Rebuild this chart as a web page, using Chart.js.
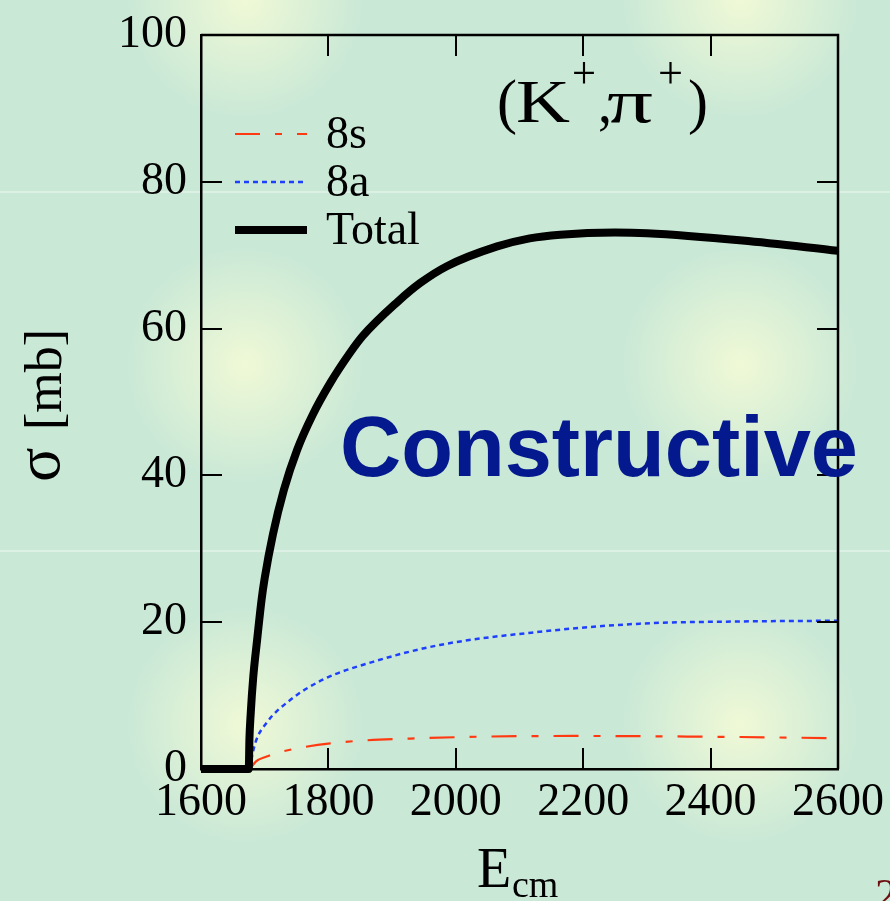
<!DOCTYPE html>
<html>
<head>
<meta charset="utf-8">
<script src="https://cdn.jsdelivr.net/npm/chart.js@4.4.1/dist/chart.umd.min.js"></script>
<style>
html, body { margin: 0; padding: 0; }
body {
    width: 890px;
    height: 901px;
    overflow: hidden;
    background:
        radial-gradient(circle at 245px 0px, rgba(242,250,214,0.95) 0, rgba(242,250,214,0) 120px),
        radial-gradient(circle at 740px 0px, rgba(242,250,214,0.95) 0, rgba(242,250,214,0) 120px),
        radial-gradient(circle at 245px 365px, rgba(242,250,214,0.95) 0, rgba(242,250,214,0) 120px),
        radial-gradient(circle at 740px 365px, rgba(242,250,214,0.95) 0, rgba(242,250,214,0) 120px),
        radial-gradient(circle at 245px 725px, rgba(242,250,214,0.95) 0, rgba(242,250,214,0) 120px),
        radial-gradient(circle at 740px 725px, rgba(242,250,214,0.95) 0, rgba(242,250,214,0) 120px),
        linear-gradient(to bottom, transparent 191px, rgba(255,255,255,0.35) 191px, rgba(255,255,255,0.35) 193px, transparent 193px,
            transparent 550px, rgba(255,255,255,0.35) 550px, rgba(255,255,255,0.35) 552px, transparent 552px),
        #c9e8d6;
}
canvas { display: block; }
</style>
</head>
<body>
<canvas id="xsChart" width="890" height="901"></canvas>
<script>
// total cross section
const eTotal = [1600, 1675, 1676, 1678, 1682, 1688, 1695, 1700, 1713, 1730, 1751, 1775, 1803, 1834, 1854, 1908, 1944, 1986, 2065, 2116, 2164, 2250, 2300, 2450, 2600];
const sigTotal = [0, 0, 4, 7.5, 12.5, 17.5, 23, 26, 32, 38, 43.5, 48.2, 52.6, 56.7, 59.0, 63.6, 66.2, 68.5, 71.2, 72.3, 72.8, 73.1, 73.0, 72.0, 70.6];

// 8a
const e8a = [1676, 1685, 1703, 1740, 1792, 1870, 1975, 2132, 2289, 2446, 2600];
const sig8a = [0, 3.5, 6.3, 9.4, 12.2, 14.6, 16.9, 18.7, 19.8, 20.1, 20.2];

// 8s
const e8s = [1677, 1686, 1703, 1724, 1803, 1949, 2184, 2394, 2600];
const sig8s = [0, 1.0, 1.7, 2.3, 3.5, 4.2, 4.5, 4.4, 4.2];

const xTicks = [1600, 1800, 2000, 2200, 2400, 2600];
const yTicks = [0, 20, 40, 60, 80, 100];

const SERIF = '"Liberation Serif", "Times New Roman", serif';

function toXY(xs, ys) {
    return xs.map((x, i) => ({ x: x, y: ys[i] }));
}

// draw text squeezed/stretched to a given width
function fitText(ctx, str, x, y, width, font) {
    ctx.save();
    ctx.font = font;
    const w = ctx.measureText(str).width;
    ctx.translate(x, y);
    ctx.scale(width / w, 1);
    ctx.fillText(str, 0, 0);
    ctx.restore();
}

function noPad(s) {
    s.paddingTop = 0;
    s.paddingBottom = 0;
    s.paddingLeft = 0;
    s.paddingRight = 0;
}

const framePlugin = {
    id: 'frame',
    afterDraw(chart) {
        const ctx = chart.ctx;
        const a = chart.chartArea;
        const xs = chart.scales.x;
        const ys = chart.scales.y;
        ctx.save();

        // top + right frame
        ctx.strokeStyle = '#000';
        ctx.lineWidth = 2.5;
        ctx.beginPath();
        ctx.moveTo(a.left, a.top);
        ctx.lineTo(a.right, a.top);
        ctx.lineTo(a.right, a.bottom);
        ctx.stroke();

        // inward ticks on all sides
        const tl = 21;
        ctx.lineWidth = 2;
        ctx.beginPath();
        xTicks.forEach(v => {
            const px = Math.round(xs.getPixelForValue(v));
            ctx.moveTo(px, a.bottom); ctx.lineTo(px, a.bottom - tl);
            ctx.moveTo(px, a.top); ctx.lineTo(px, a.top + tl);
        });
        yTicks.forEach(v => {
            const py = Math.round(ys.getPixelForValue(v));
            ctx.moveTo(a.left, py); ctx.lineTo(a.left + tl, py);
            ctx.moveTo(a.right, py); ctx.lineTo(a.right - tl, py);
        });
        ctx.stroke();

        // legend
        const legendOrder = ['8s', '8a', 'Total'];
        const rows = [134, 182, 230];
        ctx.font = '46px ' + SERIF;
        ctx.fillStyle = '#000';
        ctx.textBaseline = 'alphabetic';
        ctx.textAlign = 'left';
        legendOrder.forEach((lbl, i) => {
            const ds = chart.data.datasets.find(d => d.label === lbl);
            ctx.save();
            ctx.strokeStyle = ds.borderColor;
            ctx.lineWidth = ds.borderWidth;
            ctx.setLineDash(ds.borderDash || []);
            ctx.beginPath();
            ctx.moveTo(235, rows[i]);
            ctx.lineTo(307, rows[i]);
            ctx.stroke();
            ctx.restore();
            ctx.fillText(lbl, 326, rows[i] + 14);
        });

        // reaction label (K+,pi+)
        const big = '62px ' + SERIF;
        const sup = '46px ' + SERIF;
        fitText(ctx, '(', 497, 122, 20, big);
        fitText(ctx, 'K', 516, 122, 54, big);
        fitText(ctx, '+', 572, 88, 24, sup);
        fitText(ctx, ',', 598, 122, 14, big);
        fitText(ctx, 'π', 607, 122, 46, big);
        fitText(ctx, '+', 658, 88, 25, sup);
        fitText(ctx, ')', 688, 122, 20, big);

        // Constructive
        ctx.fillStyle = '#03198d';
        fitText(ctx, 'Constructive', 340, 476, 518, 'bold 86px "Liberation Sans", Arial, sans-serif');

        // axis titles
        ctx.fillStyle = '#000';
        ctx.font = '56px ' + SERIF;
        ctx.fillText('E', 477, 887);
        ctx.font = '38px ' + SERIF;
        ctx.fillText('cm', 512, 897);

        ctx.save();
        ctx.translate(59, 482);
        ctx.rotate(-Math.PI / 2);
        ctx.font = '64px ' + SERIF;
        ctx.fillText('σ', 0, 0);
        ctx.restore();
        ctx.save();
        ctx.translate(61, 430);
        ctx.rotate(-Math.PI / 2);
        ctx.font = '52px ' + SERIF;
        ctx.fillText('[mb]', 0, 0);
        ctx.restore();

        // page number, cut off at the corner
        ctx.fillStyle = '#6e0f0f';
        ctx.font = '44px ' + SERIF;
        ctx.fillText('2', 875, 909);

        ctx.restore();
    }
};

const tickFont = { family: SERIF, size: 46, lineHeight: 1.2 };

new Chart(document.getElementById('xsChart').getContext('2d'), {
    type: 'line',
    data: {
        datasets: [
            {
                label: 'Total',
                data: toXY(eTotal, sigTotal),
                borderColor: '#000000',
                borderWidth: 8,
                clip: 10,
                order: 0
            },
            {
                label: '8a',
                data: toXY(e8a, sig8a),
                borderColor: '#1f3fff',
                borderWidth: 2.5,
                borderDash: [5, 4],
                order: 1
            },
            {
                label: '8s',
                data: toXY(e8s, sig8s),
                borderColor: '#ff3a12',
                borderWidth: 2.2,
                borderDash: [25, 15, 7, 15],
                order: 2
            }
        ]
    },
    options: {
        responsive: false,
        animation: false,
        devicePixelRatio: 1,
        elements: {
            point: { radius: 0 },
            line: { cubicInterpolationMode: 'monotone', fill: false }
        },
        layout: { padding: { top: 35, right: 52, left: 0, bottom: 0 } },
        plugins: {
            legend: { display: false },
            tooltip: { enabled: false }
        },
        scales: {
            x: {
                type: 'linear',
                min: 1600,
                max: 2600,
                afterFit: s => { s.height = 132; noPad(s); },
                afterBuildTicks: s => { s.ticks = xTicks.map(v => ({ value: v })); },
                ticks: {
                    font: tickFont,
                    color: '#000',
                    padding: 6,
                    maxRotation: 0,
                    autoSkip: false,
                    callback: v => String(v)
                },
                grid: { display: false, drawTicks: false },
                border: { display: true, color: '#000', width: 2.5 }
            },
            y: {
                type: 'linear',
                min: 0,
                max: 100,
                afterFit: s => { s.width = 201; noPad(s); },
                afterBuildTicks: s => { s.ticks = yTicks.map(v => ({ value: v })); },
                ticks: {
                    font: tickFont,
                    color: '#000',
                    padding: 14,
                    autoSkip: false,
                    callback: v => String(v)
                },
                grid: { display: false, drawTicks: false },
                border: { display: true, color: '#000', width: 2.5 }
            }
        }
    },
    plugins: [framePlugin]
});
</script>
</body>
</html>
